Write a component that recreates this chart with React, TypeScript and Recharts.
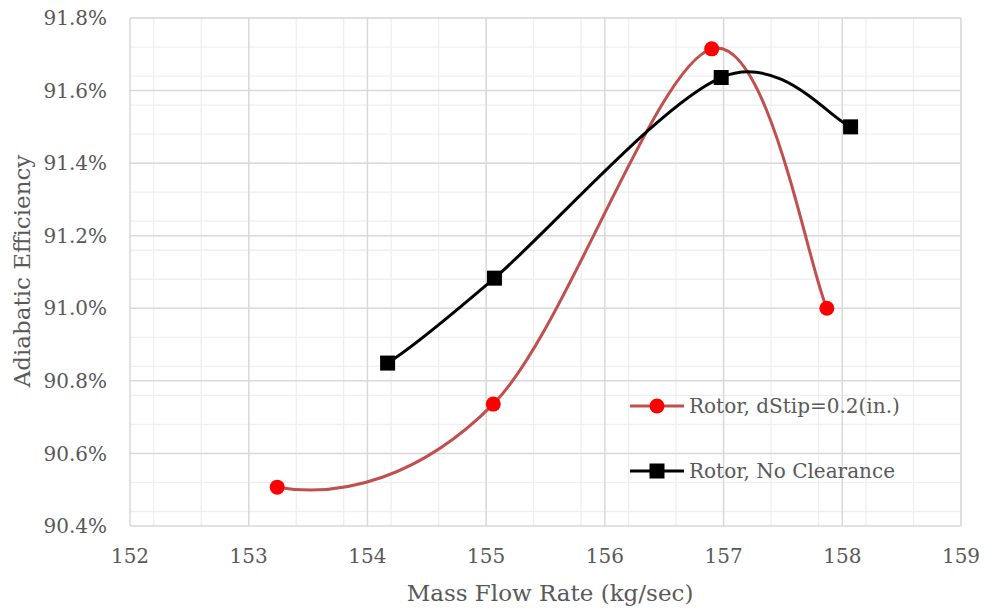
import React from 'react';
import { LineChart, Line, XAxis, YAxis, CartesianGrid } from 'recharts';

const fontFamily = '"DejaVu Serif", serif';
const textColor = '#595959';
const majorGrid = '#d9d9d9';
const minorGrid = '#efefef';
const tipColor = '#C0504D';
const tipMarker = '#FF0000';

// Rotor, dStip=0.2(in.)
const tipFlow = [153.24, 155.06, 156.9, 157.87];
const tipEff = [90.507, 90.736, 91.715, 91.0];

// Rotor, No Clearance
const noClrFlow = [154.17, 155.07, 156.98, 158.07];
const noClrEff = [90.849, 91.083, 91.636, 91.5];

const xTicks = [152, 153, 154, 155, 156, 157, 158, 159];
const yTicks = [90.4, 90.6, 90.8, 91.0, 91.2, 91.4, 91.6, 91.8];

const tipData = tipFlow.map((x, i) => ({ x, eff: tipEff[i] }));
const noClrData = noClrFlow.map((x, i) => ({ x, eff: noClrEff[i] }));

// minor grid every 0.2 kg/sec and every 0.04%
const xMinor: number[] = [];
for (let i = 0; i <= 35; i++) xMinor.push(152 + i * 0.2);
const yMinor: number[] = [];
for (let i = 0; i <= 35; i++) yMinor.push(90.4 + i * 0.04);

// spreadsheet-style smoothed line: Catmull-Rom bezier, parabolic-ish start
const smoothCurve = (context: any) => {
  let xs: number[] = [];
  let ys: number[] = [];
  return {
    areaStart() {},
    areaEnd() {},
    lineStart() {
      xs = [];
      ys = [];
    },
    point(x: number, y: number) {
      xs.push(+x);
      ys.push(+y);
    },
    lineEnd() {
      const n = xs.length;
      if (!n) return;
      context.moveTo(xs[0], ys[0]);
      if (n === 1) return;
      if (n === 2) {
        context.lineTo(xs[1], ys[1]);
        return;
      }
      const tx: number[] = [];
      const ty: number[] = [];
      for (let i = 1; i < n - 1; i++) {
        tx[i] = (xs[i + 1] - xs[i - 1]) / 2;
        ty[i] = (ys[i + 1] - ys[i - 1]) / 2;
      }
      const k = 0.8;
      const px = 2 * (xs[1] - xs[0]) - tx[1];
      const py = 2 * (ys[1] - ys[0]) - ty[1];
      tx[0] = k * px + (1 - k) * (xs[1] - xs[0]) / 2;
      ty[0] = k * py + (1 - k) * (ys[1] - ys[0]) / 2;
      tx[n - 1] = (xs[n - 1] - xs[n - 2]) / 2;
      ty[n - 1] = (ys[n - 1] - ys[n - 2]) / 2;
      for (let i = 0; i < n - 1; i++) {
        context.bezierCurveTo(
          xs[i] + tx[i] / 3,
          ys[i] + ty[i] / 3,
          xs[i + 1] - tx[i + 1] / 3,
          ys[i + 1] - ty[i + 1] / 3,
          xs[i + 1],
          ys[i + 1]
        );
      }
    },
  };
};

const SquareDot = (props: any) => {
  const { cx, cy, index } = props;
  if (cx == null || cy == null) return null;
  return <rect key={index} x={cx - 7.5} y={cy - 7.5} width={15} height={15} fill="#000" />;
};

const legendItems = [
  { name: 'Rotor, dStip=0.2(in.)', line: tipColor, marker: 'circle' },
  { name: 'Rotor, No Clearance', line: '#000', marker: 'square' },
];

const LegendBox = () => (
  <div
    style={{
      position: 'absolute',
      left: 628,
      top: 373,
      fontFamily,
      fontSize: 20,
      color: textColor,
    }}
  >
    {legendItems.map((item) => (
      <div key={item.name} style={{ display: 'flex', alignItems: 'center', height: 65 }}>
        <svg width={58} height={20} style={{ marginRight: 3 }}>
          <line x1={2} y1={10} x2={56} y2={10} stroke={item.line} strokeWidth={3} />
          {item.marker === 'circle' ? (
            <circle cx={29} cy={10} r={7.5} fill={tipMarker} />
          ) : (
            <rect x={21.5} y={2.5} width={15} height={15} fill="#000" />
          )}
        </svg>
        <span style={{ whiteSpace: 'nowrap' }}>{item.name}</span>
      </div>
    ))}
  </div>
);

const App = () => {
  return (
    <div style={{ position: 'absolute', left: 0, top: 0, width: 986, height: 615, background: '#fff' }}>
      <LineChart width={986} height={615} margin={{ top: 18, right: 25, left: 0, bottom: 0 }}>
        <CartesianGrid verticalValues={xMinor} horizontalValues={yMinor} stroke={minorGrid} strokeWidth={1.3} />
        <CartesianGrid verticalValues={xTicks} horizontalValues={yTicks} stroke={majorGrid} strokeWidth={1.5} />
        <XAxis
          type="number"
          dataKey="x"
          domain={[152, 159]}
          ticks={xTicks}
          allowDataOverflow
          axisLine={false}
          tickLine={false}
          tickSize={0}
          tickMargin={23}
          height={89}
          tick={{ fill: textColor, fontSize: 20, fontFamily }}
          label={{
            content: () => (
              <text x={550} y={601} textAnchor="middle" fill={textColor} fontSize={23} fontFamily={fontFamily}>
                Mass Flow Rate (kg/sec)
              </text>
            ),
          }}
        />
        <YAxis
          type="number"
          domain={[90.4, 91.8]}
          ticks={yTicks}
          allowDataOverflow
          axisLine={false}
          tickLine={false}
          tickSize={0}
          tickMargin={23}
          width={130}
          tickFormatter={(v: number) => v.toFixed(1) + '%'}
          tick={{ fill: textColor, fontSize: 20, fontFamily }}
          label={{
            content: () => (
              <text x={30} y={271} transform="rotate(-90 30 271)" textAnchor="middle" fill={textColor} fontSize={23} fontFamily={fontFamily}>
                Adiabatic Efficiency
              </text>
            ),
          }}
        />
        <Line
          data={tipData}
          dataKey="eff"
          name="Rotor, dStip=0.2(in.)"
          type={smoothCurve as any}
          stroke={tipColor}
          strokeWidth={3}
          dot={{ r: 7.5, fill: tipMarker, stroke: 'none' }}
          isAnimationActive={false}
        />
        <Line
          data={noClrData}
          dataKey="eff"
          name="Rotor, No Clearance"
          type={smoothCurve as any}
          stroke="#000"
          strokeWidth={3}
          dot={<SquareDot />}
          isAnimationActive={false}
        />
      </LineChart>
      <LegendBox />
    </div>
  );
};

export default App;
